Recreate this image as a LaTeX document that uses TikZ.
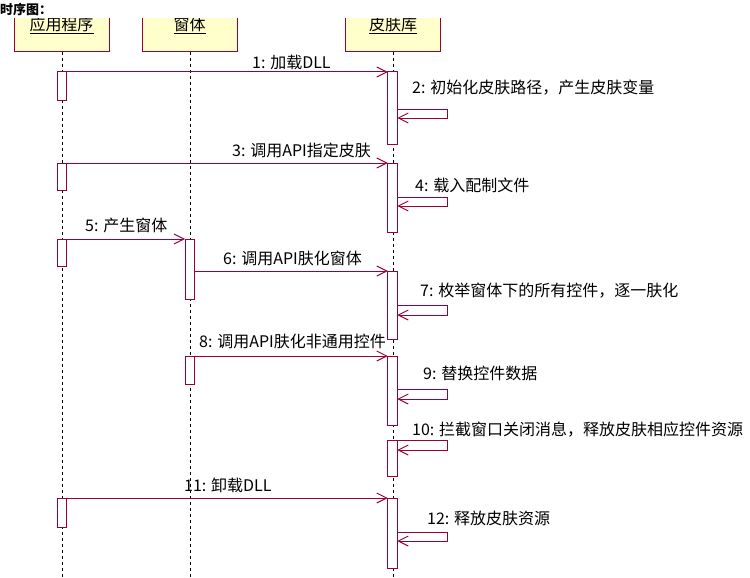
\documentclass[tikz,border=0pt]{standalone}
\usepackage{fontspec}
\newfontfamily\cjk{Noto Sans CJK SC}
\usetikzlibrary{arrows.meta,calc}
\definecolor{mc}{RGB}{153,0,51}
\definecolor{boxfill}{RGB}{255,255,204}
\begin{document}
\begin{tikzpicture}[x=1pt,y=-1pt,
  objbox/.style={draw=mc,fill=boxfill,line width=1pt,inner sep=0pt,outer sep=0pt,minimum width=95pt,minimum height=60pt},
  boxlabel/.style={inner sep=0pt,anchor=base,font=\cjk\fontsize{16}{18}\selectfont},
  lifeline/.style={black,line width=0.9pt,dash pattern=on 3pt off 3pt},
  bar/.style={draw=mc,fill=white,line width=1pt,inner sep=0pt,outer sep=0pt,minimum width=9.5pt},
  msg/.style={mc,line width=1pt,-{Straight Barb[length=10pt,width=10pt]}},
  lbl/.style={inner sep=0pt,anchor=base west,font=\cjk\fontsize{16}{18}\selectfont},
  ttl/.style={inner sep=0pt,anchor=base west,font=\cjk\bfseries\fontsize{13}{15}\selectfont}]
\useasboundingbox (0,0) rectangle (750,578);
\fill[white] (0,0) rectangle (750,578);
% title
\node[ttl] (title) at (0,15) {时序图：};
% object boxes (top clipped)
\begin{scope}
  \clip (0,19) rectangle (750,60);
  \node[objbox] (app)  at (61.5,22) {};
  \node[objbox] (win)  at (189.5,22) {};
  \node[objbox] (skin) at (393,22) {};
  \node[boxlabel] (appl)  at (61.5,30.5) {\underline{应用程序}};
  \node[boxlabel] (winl)  at (189.5,30.5) {\underline{窗体}};
  \node[boxlabel] (skinl) at (393,30.5) {\underline{皮肤库}};
\end{scope}
% lifelines
\coordinate (appb)  at (62,578);
\coordinate (winb)  at (190,578);
\coordinate (skinb) at (393,578);
\draw[lifeline] (app.south -| appb) -- (appb);
\draw[lifeline] (win.south -| winb) -- (winb);
\draw[lifeline] (skin.south -| skinb) -- (skinb);
% activation bars
\node[bar,minimum height=28pt] (a1) at (62,86) {};
\node[bar,minimum height=27pt] (a2) at (62,176.5) {};
\node[bar,minimum height=27pt] (a3) at (62,252.5) {};
\node[bar,minimum height=29pt] (a4) at (62,512.5) {};
\node[bar,minimum height=60pt] (b1) at (189.8,269) {};
\node[bar,minimum height=28pt] (b2) at (189.8,370) {};
\node[bar,minimum height=72pt] (c1) at (392.5,108) {};
\node[bar,minimum height=69pt] (c2) at (392.5,197.5) {};
\node[bar,minimum height=68pt] (c3) at (392.5,305) {};
\node[bar,minimum height=69pt] (c4) at (392.5,390.5) {};
\node[bar,minimum height=36pt] (c5) at (392.5,458) {};
\node[bar,minimum height=70pt] (c6) at (392.5,533) {};
% messages
\draw[msg] (a1.north east) -- (c1.north west);
\node[lbl] (l1) at (252,69) {1: 加载DLL};
\draw[msg] ($(c1.north east)+(0,37)$) -- ++(50,0) -- ++(0,9) -- ($(c1.north east)+(0,46)$);
\node[lbl] (l2) at (412,94) {2: 初始化皮肤路径，产生皮肤变量};
\draw[msg] (a2.north east) -- (c2.north west);
\node[lbl] (l3) at (232,156) {3: 调用API指定皮肤};
\draw[msg] ($(c2.north east)+(0,34)$) -- ++(50,0) -- ++(0,9) -- ($(c2.north east)+(0,43)$);
\node[lbl] (l4) at (415,191) {4: 载入配制文件};
\draw[msg] (a3.north east) -- (b1.north west);
\node[lbl] (l5) at (85,231) {5: 产生窗体};
\draw[msg] (b1.east |- c3.north west) -- (c3.north west);
\node[lbl] (l6) at (223,264) {6: 调用API肤化窗体};
\draw[msg] ($(c3.north east)+(0,34)$) -- ++(50,0) -- ++(0,10) -- ($(c3.north east)+(0,44)$);
\node[lbl] (l7) at (420,296) {7: 枚举窗体下的所有控件，逐一肤化};
\draw[msg] (b2.north east) -- (c4.north west);
\node[lbl] (l8) at (199,347) {8: 调用API肤化非通用控件};
\draw[msg] ($(c4.north east)+(0,33)$) -- ++(50,0) -- ++(0,10) -- ($(c4.north east)+(0,43)$);
\node[lbl] (l9) at (423,379) {9: 替换控件数据};
\draw[msg] (c5.north east) -- ++(50,0) -- ++(0,10) -- ($(c5.north east)+(0,10)$);
\node[lbl] (l10) at (412,435) {10: 拦截窗口关闭消息，释放皮肤相应控件资源};
\draw[msg] (a4.north east) -- (c6.north west);
\node[lbl] (l11) at (184,491) {11: 卸载DLL};
\draw[msg] ($(c6.north east)+(0,34)$) -- ++(50,0) -- ++(0,9) -- ($(c6.north east)+(0,43)$);
\node[lbl] (l12) at (427,524) {12: 释放皮肤资源};
\end{tikzpicture}
\end{document}
